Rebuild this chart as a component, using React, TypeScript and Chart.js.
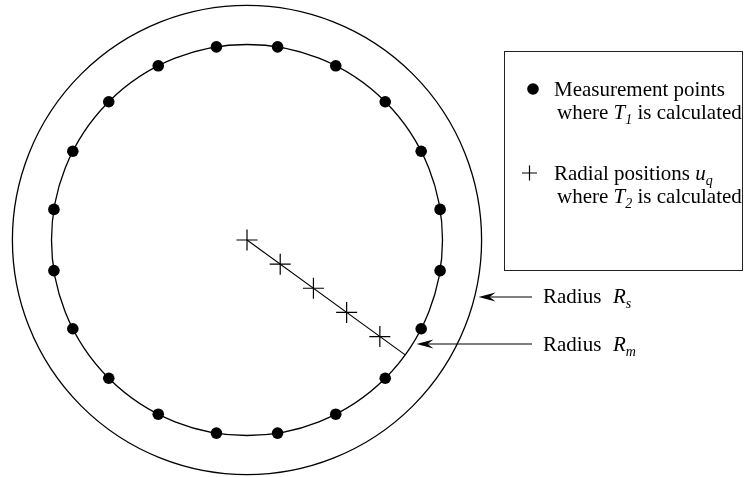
import React, { useEffect, useRef } from "react";
import { Chart, registerables } from "chart.js";

Chart.register(...registerables);

// ---- data (units: measurement radius Rm = 1) ----
const measurementAngles = [9, 27, 45, 63, 81, 99, 117, 135, 153, 171, 189, 207, 225, 243, 261, 279, 297, 315, 333, 351];
const radialPositions = [0, 0.21, 0.42, 0.63, 0.84];
const radialAngle = -36;
const radiusM = 1;
const radiusS = 1.2;
const legendMeasure = ["Measurement points", "where", "T", "1", "is calculated"];
const legendRadial = ["Radial positions", "u", "q", "where", "T", "2", "is calculated"];
const radiusLabels = ["Radius", "R", "s", "m"];

const W = 750;
const H = 477;
const PX = 195.5; // pixels per unit
const CX = 247;
const CY = 240;

const FONT = '"Liberation Serif", "Times New Roman", serif';

type Seg = { t: string; italic?: boolean; sub?: boolean };

function drawSegs(ctx: CanvasRenderingContext2D, segs: Seg[], x: number, y: number, size: number) {
  let cx = x;
  for (const s of segs) {
    const fs = s.sub ? Math.round(size * 0.68) : size;
    ctx.font = `${s.italic ? "italic " : ""}${fs}px ${FONT}`;
    ctx.fillText(s.t, cx, s.sub ? y + size * 0.22 : y);
    cx += ctx.measureText(s.t).width;
  }
}

function arrow(ctx: CanvasRenderingContext2D, x0: number, x1: number, y: number) {
  ctx.beginPath();
  ctx.moveTo(x0, y);
  ctx.lineTo(x1 + 6, y);
  ctx.lineWidth = 1.2;
  ctx.strokeStyle = "#000";
  ctx.stroke();
  ctx.beginPath();
  ctx.moveTo(x1, y);
  ctx.lineTo(x1 + 17, y - 4.5);
  ctx.lineTo(x1 + 11, y);
  ctx.lineTo(x1 + 17, y + 4.5);
  ctx.closePath();
  ctx.fillStyle = "#000";
  ctx.fill();
}

const diagramPlugin = {
  id: "diagram",
  beforeDatasetsDraw(chart: any) {
    const ctx: CanvasRenderingContext2D = chart.ctx;
    const xs = chart.scales.x;
    const ys = chart.scales.y;
    const cx = xs.getPixelForValue(0);
    const cy = ys.getPixelForValue(0);
    ctx.save();
    ctx.strokeStyle = "#000";
    ctx.lineWidth = 1.3;
    for (const r of [radiusS, radiusM]) {
      const rx = xs.getPixelForValue(r) - cx;
      const ry = cy - ys.getPixelForValue(r);
      ctx.beginPath();
      ctx.ellipse(cx, cy, rx, ry, 0, 0, Math.PI * 2);
      ctx.stroke();
    }
    ctx.restore();
  },
  afterDraw(chart: any) {
    const ctx: CanvasRenderingContext2D = chart.ctx;
    const xs = chart.scales.x;
    const ys = chart.scales.y;
    const cx = xs.getPixelForValue(0);
    const cy = ys.getPixelForValue(0);
    ctx.save();
    ctx.fillStyle = "#000";
    ctx.textBaseline = "alphabetic";
    ctx.textAlign = "left";

    // legend box
    ctx.strokeStyle = "#222";
    ctx.lineWidth = 1;
    ctx.strokeRect(504.5, 51.5, 238, 219);

    ctx.beginPath();
    ctx.arc(533, 89, 5.8, 0, Math.PI * 2);
    ctx.fill();

    ctx.beginPath();
    ctx.moveTo(522, 173);
    ctx.lineTo(537, 173);
    ctx.moveTo(529.5, 165.5);
    ctx.lineTo(529.5, 180.5);
    ctx.lineWidth = 1.2;
    ctx.strokeStyle = "#000";
    ctx.stroke();

    const fs = 21;
    drawSegs(ctx, [{ t: legendMeasure[0] }], 554, 96, fs);
    drawSegs(
      ctx,
      [
        { t: legendMeasure[1] + " " },
        { t: legendMeasure[2], italic: true },
        { t: legendMeasure[3], italic: true, sub: true },
        { t: " " + legendMeasure[4] },
      ],
      557,
      119,
      fs
    );
    drawSegs(
      ctx,
      [
        { t: legendRadial[0] + " " },
        { t: legendRadial[1], italic: true },
        { t: legendRadial[2], italic: true, sub: true },
      ],
      554,
      180,
      fs
    );
    drawSegs(
      ctx,
      [
        { t: legendRadial[3] + " " },
        { t: legendRadial[4], italic: true },
        { t: legendRadial[5], italic: true, sub: true },
        { t: " " + legendRadial[6] },
      ],
      557,
      203,
      fs
    );

    // radius annotations
    const ySPix = 297;
    const yMPix = 344;
    const rsPx = xs.getPixelForValue(radiusS) - cx;
    const rmPx = xs.getPixelForValue(radiusM) - cx;
    const tipS = cx + Math.sqrt(rsPx * rsPx - (ySPix - cy) ** 2) + 4;
    const tipM = cx + Math.sqrt(rmPx * rmPx - (yMPix - cy) ** 2) + 4;
    arrow(ctx, 532, tipS, ySPix);
    arrow(ctx, 532, tipM, yMPix);

    ctx.fillStyle = "#000";
    ctx.font = `${fs}px ${FONT}`;
    ctx.fillText(radiusLabels[0], 543, 303);
    ctx.fillText(radiusLabels[0], 543, 351);
    drawSegs(ctx, [{ t: radiusLabels[1], italic: true }, { t: radiusLabels[2], italic: true, sub: true }], 613, 303, fs);
    drawSegs(ctx, [{ t: radiusLabels[1], italic: true }, { t: radiusLabels[3], italic: true, sub: true }], 613, 351, fs);

    ctx.restore();
  },
};

export default function App() {
  const ref = useRef<HTMLCanvasElement | null>(null);

  useEffect(() => {
    if (!ref.current) return;
    const rad = (d: number) => (d * Math.PI) / 180;
    const measurePts = measurementAngles.map((a) => ({ x: radiusM * Math.cos(rad(a)), y: radiusM * Math.sin(rad(a)) }));
    const lineEnd = { x: radiusM * Math.cos(rad(radialAngle)), y: radiusM * Math.sin(rad(radialAngle)) };
    const crossPts = radialPositions.map((u) => ({ x: u * lineEnd.x, y: u * lineEnd.y }));

    const chart = new Chart(ref.current, {
      type: "scatter",
      data: {
        datasets: [
          {
            type: "line",
            data: [{ x: 0, y: 0 }, lineEnd],
            borderColor: "#000",
            borderWidth: 1.1,
            pointRadius: 0,
            showLine: true,
          } as any,
          {
            data: crossPts,
            pointStyle: "cross",
            pointRadius: 10.5,
            borderColor: "#000",
            borderWidth: 1.2,
            backgroundColor: "#000",
          },
          {
            data: measurePts,
            pointStyle: "circle",
            pointRadius: 5.8,
            backgroundColor: "#000",
            borderColor: "#000",
            borderWidth: 0,
          },
        ],
      },
      options: {
        responsive: false,
        animation: false,
        events: [],
        layout: { padding: 0, autoPadding: false },
        plugins: { legend: { display: false }, tooltip: { enabled: false }, title: { display: false } },
        scales: {
          x: { type: "linear", display: false, min: -CX / PX, max: (W - CX) / PX },
          y: { type: "linear", display: false, min: -(H - CY) / PX, max: CY / PX },
        },
      },
      plugins: [diagramPlugin],
    });
    return () => chart.destroy();
  }, []);

  return (
    <div style={{ position: "fixed", left: 0, top: 0, width: W, height: H, background: "#fff" }}>
      <canvas ref={ref} width={W} height={H} style={{ display: "block", width: W, height: H }} />
    </div>
  );
}
